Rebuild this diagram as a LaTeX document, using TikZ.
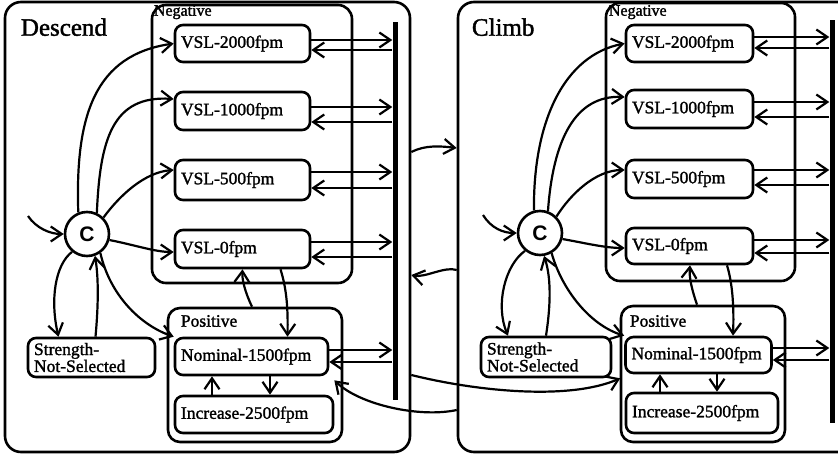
\documentclass[tikz,border=0pt]{standalone}
\usepackage{fontspec}
\setmainfont{Liberation Serif}[FakeBold=1.5]
\setsansfont{Liberation Sans}
\newfontfamily\nodeserif{Liberation Serif}[FakeBold=1.5]
\newfontfamily\circsans{Liberation Sans Bold}
\usetikzlibrary{arrows.meta}
\newcommand\ndfont{\nodeserif\fontsize{17.5}{15.5}\selectfont}
\newcommand\ttlfont{\nodeserif\fontsize{25}{25}\selectfont}
\newcommand\lblfont{\nodeserif\fontsize{16}{16}\selectfont}
\tikzset{
  box/.style={draw, rounded corners=8pt, line width=2.6pt, inner xsep=6pt, inner ysep=0pt, align=left, font=\ndfont},
  frame/.style={draw, rounded corners=14pt, line width=2.6pt, inner sep=0pt},
  circ/.style={draw, circle, line width=2.6pt, minimum size=44pt, inner sep=0pt, font=\circsans\fontsize{21}{21}\selectfont},
  bar/.style={fill=black, inner sep=0pt, minimum width=5pt},
  arr/.style={line width=2.2pt, -{Straight Barb[length=11pt,width=15pt,line width=2.2pt]}},
  ttl/.style={font=\ttlfont, inner sep=0pt, anchor=base west},
  lbl/.style={font=\lblfont, inner sep=0pt, anchor=base west},
  plbl/.style={font=\ndfont, inner sep=0pt, anchor=base west}
}
\begin{document}
\begin{tikzpicture}[x=1pt,y=-1pt]
\useasboundingbox (0,0) rectangle (838,455);
\clip (0,0) rectangle (838,455);
\fill[white] (0,0) rectangle (838,455);

% ================= DESCEND =================
\node[frame, rounded corners=16pt, minimum width=405pt, minimum height=450pt] (douter) at (207.5,227) {};
\node[frame, minimum width=200pt, minimum height=278pt] (dneg) at (252,144) {};
\node[frame, rounded corners=12pt, minimum width=174pt, minimum height=134pt] (dpos) at (255,375) {};
\node[ttl] (dttl) at ([xshift=17pt,yshift=-35pt]douter.north west) {Descend};
\node[lbl] (dneglbl) at ([xshift=3pt,yshift=-12pt]dneg.north west) {Negative};
\node[plbl] (dposlbl) at ([xshift=14pt,yshift=-20pt]dpos.north west) {Positive};

\node[box, text width=123pt, minimum height=37pt] (dvsl2000) at (242.5,43.5) {VSL-2000fpm};
\node[box, text width=123pt, minimum height=38pt] (dvsl1000) at (242.5,111) {VSL-1000fpm};
\node[box, text width=123pt, minimum height=40pt] (dvsl500) at (242.5,180) {VSL-500fpm};
\node[box, text width=123pt, minimum height=38pt] (dvsl0) at (242.5,249) {VSL-0fpm};
\node[box, text width=141pt, minimum height=37pt] (dnom) at (251.5,356.5) {Nominal-1500fpm};
\node[box, text width=146pt, minimum height=37pt] (dinc) at (254,414.5) {Increase-2500fpm};
\node[box, text width=115pt, minimum height=39pt] (dstr) at (91.5,357.5) {Strength-\\Not-Selected};
\node[circ] (dC) at (87,234) {C};
\node[bar, minimum height=378pt] (dbar) at (395,211) {};
\coordinate (din) at (28,216);

% bar arrows
\draw[arr] ([yshift=3.5pt]dvsl2000.east) -- ([yshift=3.5pt]dvsl2000.east -| dbar.west);
\draw[arr] ([yshift=-6.5pt]dvsl2000.east -| dbar.west) -- ([yshift=-6.5pt]dvsl2000.east);
\draw[arr] ([yshift=4pt]dvsl1000.east) -- ([yshift=4pt]dvsl1000.east -| dbar.west);
\draw[arr] ([yshift=-11pt]dvsl1000.east -| dbar.west) -- ([yshift=-11pt]dvsl1000.east);
\draw[arr] ([yshift=8pt]dvsl500.east) -- ([yshift=8pt]dvsl500.east -| dbar.west);
\draw[arr] ([yshift=-8pt]dvsl500.east -| dbar.west) -- ([yshift=-8pt]dvsl500.east);
\draw[arr] ([yshift=7pt]dvsl0.east) -- ([yshift=7pt]dvsl0.east -| dbar.west);
\draw[arr] ([yshift=-8pt]dvsl0.east -| dbar.west) -- ([yshift=-8pt]dvsl0.east);
\draw[arr] ([yshift=6.5pt]dnom.east) -- ([yshift=6.5pt]dnom.east -| dbar.west);
\draw[arr] ([yshift=-5.5pt]dnom.east -| dbar.west) -- ([yshift=-5.5pt]dnom.east);

% C connectors
\draw[arr] (din) .. controls (36,228) and (50,234) .. (dC.west);
\draw[arr] (dC.112) .. controls (75,115) and (95,55) .. (dvsl2000.west);
\draw[arr] (dC.65) .. controls (100,140) and (112,95) .. ([yshift=12pt]dvsl1000.west);
\draw[arr] (dC.45) .. controls (120,195) and (145,172) .. ([yshift=10pt]dvsl500.west);
\draw[arr] (dC.-15) .. controls (135,245) and (155,252) .. ([yshift=-3pt]dvsl0.west);
\draw[arr] (dC.-130) .. controls (55,265) and (50,300) .. ([xshift=-33pt]dstr.north);
\draw[arr] ([xshift=4pt]dstr.north) .. controls (98,310) and (99,280) .. (dC.-70);
\draw[arr] (dC.-55) .. controls (110,295) and (140,325) .. (dnom.north west);
% VSL-0 <-> Positive
\draw[arr] ([xshift=-3pt]dpos.north) .. controls (245,292) and (242,280) .. (dvsl0.south);
\draw[arr] ([xshift=38pt]dvsl0.south) .. controls (287,290) and (288,310) .. ([xshift=36pt]dnom.north);
% Nominal <-> Increase
\draw[arr] ([xshift=-42pt]dinc.north) -- ([xshift=-39.5pt]dnom.south);
\draw[arr] ([xshift=18.5pt]dnom.south) -- ([xshift=16pt]dinc.north);

% ================= CLIMB =================
\node[frame, rounded corners=16pt, minimum width=442pt, minimum height=450pt] (couter) at (679,227) {};
\node[frame, minimum width=189pt, minimum height=278pt] (cneg) at (700.5,142) {};
\node[frame, rounded corners=12pt, minimum width=164pt, minimum height=136pt] (cpos) at (703,374) {};
\node[ttl] (cttl) at ([xshift=15pt,yshift=-35pt]couter.north west) {Climb};
\node[lbl] (cneglbl) at ([xshift=4pt,yshift=-14pt]cneg.north west) {Negative};
\node[plbl] (cposlbl) at ([xshift=10pt,yshift=-22pt]cpos.north west) {Positive};

\node[box, text width=115pt, minimum height=37pt] (cvsl2000) at (689.5,43.5) {VSL-2000fpm};
\node[box, text width=115pt, minimum height=38pt] (cvsl1000) at (689.5,109) {VSL-1000fpm};
\node[box, text width=115pt, minimum height=38pt] (cvsl500) at (689.5,179) {VSL-500fpm};
\node[box, text width=115pt, minimum height=36pt] (cvsl0) at (689.5,246) {VSL-0fpm};
\node[box, text width=134pt, minimum height=36pt] (cnom) at (698.5,355) {Nominal-1500fpm};
\node[box, text width=140pt, minimum height=40pt] (cinc) at (702,413) {Increase-2500fpm};
\node[box, text width=118pt, minimum height=40pt] (cstr) at (546,357) {Strength-\\Not-Selected};
\node[circ] (cC) at (540,233) {C};
\node[bar, minimum height=403pt] (cbar) at (832,221.5) {};
\coordinate (cin) at (483,215);

% bar arrows
\draw[arr] ([yshift=6.5pt]cvsl2000.east) -- ([yshift=6.5pt]cvsl2000.east -| cbar.west);
\draw[arr] ([yshift=-4.5pt]cvsl2000.east -| cbar.west) -- ([yshift=-4.5pt]cvsl2000.east);
\draw[arr] ([yshift=7pt]cvsl1000.east) -- ([yshift=7pt]cvsl1000.east -| cbar.west);
\draw[arr] ([yshift=-8pt]cvsl1000.east -| cbar.west) -- ([yshift=-8pt]cvsl1000.east);
\draw[arr] ([yshift=9pt]cvsl500.east) -- ([yshift=9pt]cvsl500.east -| cbar.west);
\draw[arr] ([yshift=-6pt]cvsl500.east -| cbar.west) -- ([yshift=-6pt]cvsl500.east);
\draw[arr] ([yshift=6pt]cvsl0.east) -- ([yshift=6pt]cvsl0.east -| cbar.west);
\draw[arr] ([yshift=-7pt]cvsl0.east -| cbar.west) -- ([yshift=-7pt]cvsl0.east);
\draw[arr] ([yshift=7pt]cnom.east) -- ([yshift=7pt]cnom.east -| cbar.west);
\draw[arr] ([yshift=-5pt]cnom.east -| cbar.west) -- ([yshift=-5pt]cnom.east);

% C connectors
\draw[arr] (cin) .. controls (491,228) and (503,233) .. (cC.west);
\draw[arr] (cC.105) .. controls (533,120) and (565,55) .. (cvsl2000.west);
\draw[arr] (cC.70) .. controls (553,140) and (575,95) .. ([yshift=12pt]cvsl1000.west);
\draw[arr] (cC.45) .. controls (570,195) and (595,170) .. ([yshift=9pt]cvsl500.west);
\draw[arr] (cC.-15) .. controls (585,243) and (605,248) .. ([yshift=-2pt]cvsl0.west);
\draw[arr] (cC.-130) .. controls (505,265) and (495,305) .. ([xshift=-38pt]cstr.north);
\draw[arr] (cstr.north) .. controls (550,310) and (552,280) .. (cC.-80);
\draw[arr] (cC.-60) .. controls (562,290) and (590,325) .. (cnom.north west);
% VSL-0 <-> Positive
\draw[arr] ([xshift=-6pt]cpos.north) .. controls (692,290) and (689,278) .. ([xshift=0.5pt]cvsl0.south);
\draw[arr] ([xshift=37.5pt]cvsl0.south) .. controls (733,285) and (734,310) .. ([xshift=34.5pt]cnom.north);
% Nominal <-> Increase
\draw[arr] ([xshift=-42pt]cinc.north) -- ([xshift=-38.5pt]cnom.south);
\draw[arr] ([xshift=18.5pt]cnom.south) -- ([xshift=15pt]cinc.north);

% ================= BETWEEN PANELS =================
\draw[arr] ([yshift=75pt]douter.east) .. controls (425,145) and (440,146) .. ([yshift=79pt]couter.west);
\draw[arr] ([yshift=-43pt]couter.west) .. controls (445,266) and (425,278) .. ([yshift=-48pt]douter.east);
\draw[arr] ([yshift=-183pt]couter.west) .. controls (420,418) and (360,405) .. ([xshift=5pt,yshift=-4pt]dnom.south east);
\draw[arr] ([yshift=-148pt]douter.east) .. controls (480,392) and (570,400) .. ([xshift=-4pt,yshift=-4pt]cnom.south west);
\end{tikzpicture}
\end{document}
